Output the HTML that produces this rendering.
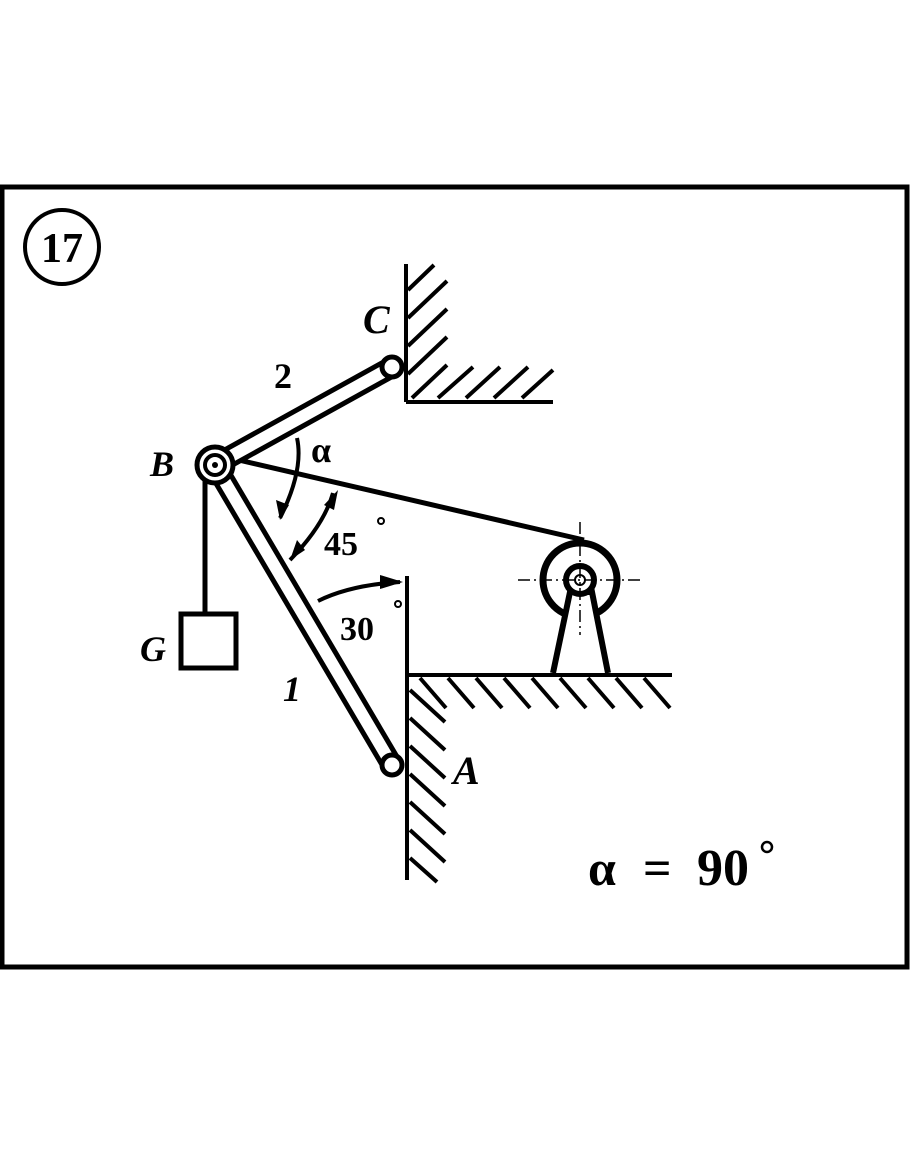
<!DOCTYPE html>
<html><head><style>
html,body{margin:0;padding:0;background:#fff;}
svg{display:block;}
text{font-family:"Liberation Serif",serif;font-weight:bold;fill:#000;}
</style></head><body>
<svg width="910" height="1155" viewBox="0 0 910 1155" xmlns="http://www.w3.org/2000/svg">
<rect x="2" y="187" width="905" height="780" fill="#fff" stroke="#000" stroke-width="5"/>
<circle cx="62" cy="247" r="37" fill="none" stroke="#000" stroke-width="4"/>
<text x="62" y="262" font-size="42" text-anchor="middle">17</text>

<g stroke="#000" stroke-width="4" fill="none">
<line x1="406" y1="264" x2="406" y2="402"/>
<line x1="406" y1="402" x2="553" y2="402"/>
<line x1="408" y1="290" x2="434" y2="265"/>
<line x1="408" y1="318" x2="447" y2="281"/>
<line x1="408" y1="346" x2="447" y2="309"/>
<line x1="408" y1="374" x2="447" y2="337"/>
<line x1="412" y1="398" x2="447" y2="365"/>
<line x1="438" y1="398" x2="473" y2="367"/>
<line x1="466" y1="398" x2="500" y2="367"/>
<line x1="494" y1="398" x2="528" y2="367"/>
<line x1="522" y1="398" x2="553" y2="370"/>

<line x1="407" y1="576" x2="407" y2="880"/>
<line x1="407" y1="675" x2="672" y2="675"/>
<line x1="420" y1="678" x2="446" y2="708"/>
<line x1="448" y1="678" x2="474" y2="708"/>
<line x1="476" y1="678" x2="502" y2="708"/>
<line x1="504" y1="678" x2="530" y2="708"/>
<line x1="532" y1="678" x2="558" y2="708"/>
<line x1="560" y1="678" x2="586" y2="708"/>
<line x1="588" y1="678" x2="614" y2="708"/>
<line x1="616" y1="678" x2="642" y2="708"/>
<line x1="644" y1="678" x2="670" y2="708"/>
<line x1="410" y1="690" x2="445" y2="722"/>
<line x1="410" y1="718" x2="445" y2="750"/>
<line x1="410" y1="746" x2="445" y2="778"/>
<line x1="410" y1="774" x2="445" y2="806"/>
<line x1="410" y1="802" x2="445" y2="834"/>
<line x1="410" y1="830" x2="445" y2="862"/>
<line x1="410" y1="858" x2="437" y2="882"/>
</g>

<line x1="230" y1="458" x2="584" y2="540" stroke="#000" stroke-width="5"/>
<line x1="205" y1="470" x2="205" y2="614" stroke="#000" stroke-width="5"/>
<rect x="181" y="614" width="55" height="54" fill="#fff" stroke="#000" stroke-width="5"/>

<line x1="215" y1="465" x2="392" y2="367" stroke="#000" stroke-width="22"/>
<line x1="215" y1="465" x2="392" y2="367" stroke="#fff" stroke-width="12"/>
<line x1="215" y1="465" x2="392" y2="765" stroke="#000" stroke-width="22"/>
<line x1="215" y1="465" x2="392" y2="765" stroke="#fff" stroke-width="12"/>

<circle cx="392" cy="367" r="10" fill="#fff" stroke="#000" stroke-width="5"/>
<circle cx="392" cy="765" r="10" fill="#fff" stroke="#000" stroke-width="5"/>
<circle cx="215" cy="465" r="18" fill="#fff" stroke="#000" stroke-width="5"/>
<circle cx="215" cy="465" r="10" fill="#fff" stroke="#000" stroke-width="4"/>
<circle cx="215" cy="465" r="3" fill="#000"/>

<circle cx="580" cy="580" r="37" fill="#fff" stroke="#000" stroke-width="7"/>
<path d="M553,673 L570,592 L592,592 L608,673" fill="#fff" stroke="#000" stroke-width="6"/>
<circle cx="580" cy="580" r="14" fill="#fff" stroke="#000" stroke-width="6"/>
<circle cx="580" cy="580" r="5" fill="#fff" stroke="#000" stroke-width="2"/>
<g stroke="#000" stroke-width="1.5" stroke-dasharray="12,4,2,4">
<line x1="518" y1="580" x2="640" y2="580"/>
<line x1="580" y1="522" x2="580" y2="635"/>
</g>

<g stroke="#000" stroke-width="4" fill="none">
<path d="M297,438 Q304,470 280,518"/>
<path d="M333,493 Q324,525 290,560"/>
<path d="M318,601 Q350,585 400,582"/>
</g>
<path d="M280,520 L276,500 L289,505 Z" fill="#000"/>
<path d="M338,490 L324,505 L334,510 Z" fill="#000"/>
<path d="M290,560 L297,540 L305,550 Z" fill="#000"/>
<path d="M403,582 L380,575 L380,589 Z" fill="#000"/>

<text x="363" y="333" font-size="40" font-style="italic">C</text>
<text x="274" y="388" font-size="36">2</text>
<text x="150" y="476" font-size="36" font-style="italic">B</text>
<text x="311" y="462" font-size="36" font-weight="normal">α</text>
<text x="324" y="555" font-size="34">45</text>
<circle cx="381" cy="521" r="3" fill="none" stroke="#000" stroke-width="2"/>
<text x="340" y="640" font-size="34">30</text>
<circle cx="398" cy="604" r="3" fill="none" stroke="#000" stroke-width="2"/>
<text x="140" y="661" font-size="36" font-style="italic">G</text>
<text x="283" y="701" font-size="36" font-style="italic">1</text>
<text x="453" y="784" font-size="40" font-style="italic">A</text>
<text x="588" y="885" font-size="50" font-weight="normal">α</text>
<text x="643" y="885" font-size="50" font-weight="normal">=</text>
<text x="697" y="885" font-size="52">90</text>
<circle cx="767" cy="847" r="5" fill="none" stroke="#000" stroke-width="2.5"/>
</svg>
</body></html>
